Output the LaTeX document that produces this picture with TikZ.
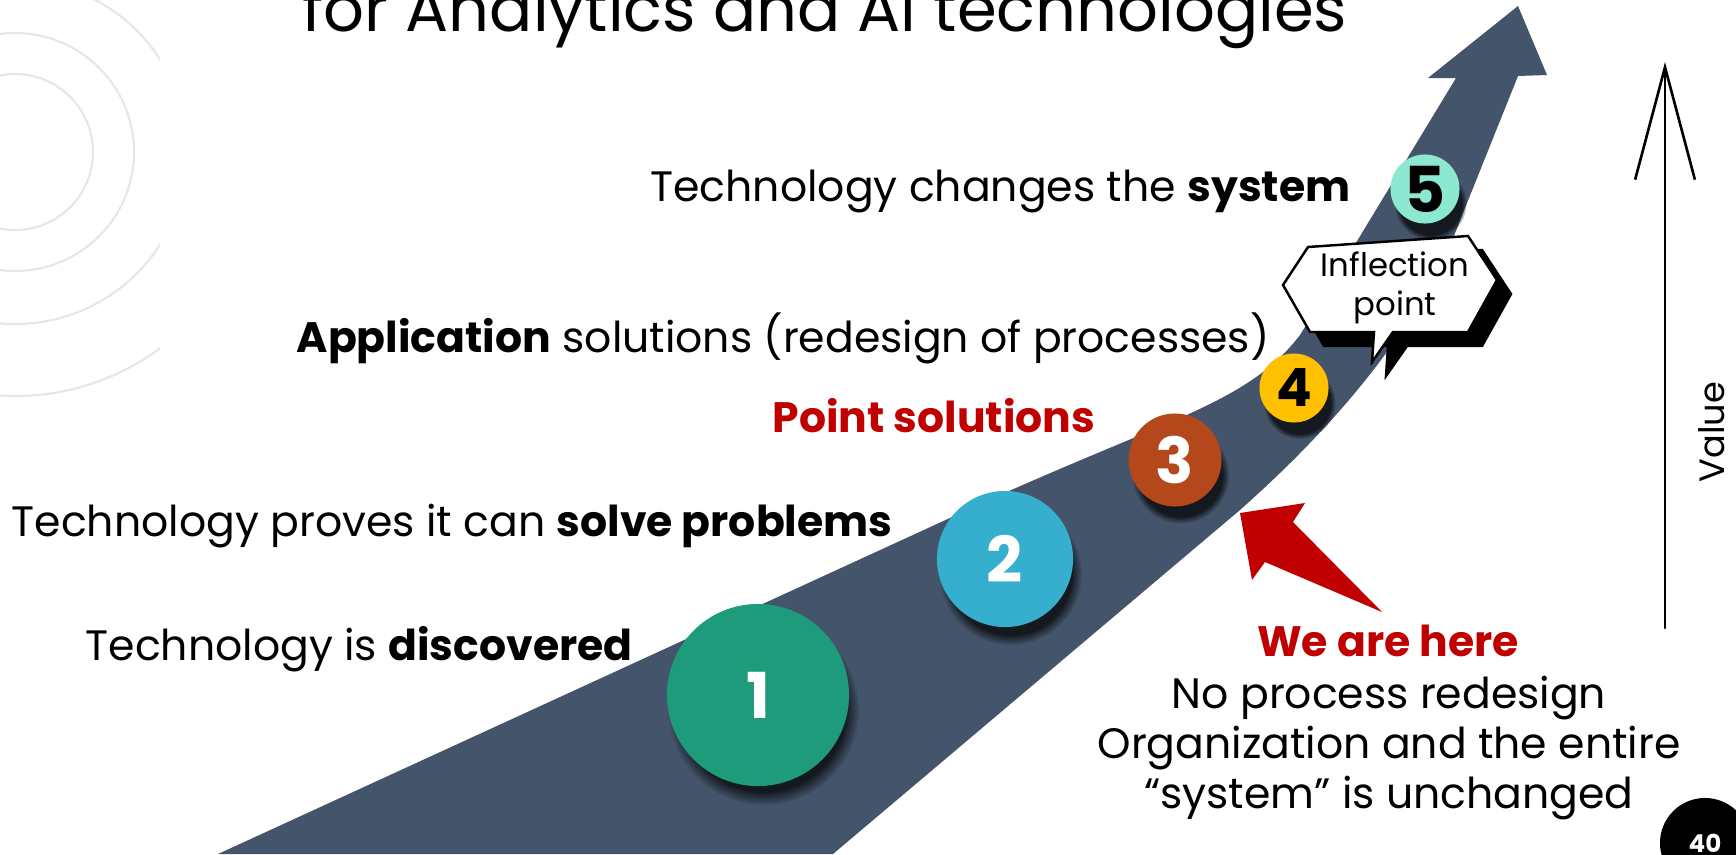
\documentclass[tikz,border=0pt]{standalone}
\usepackage{fontspec}
\setmainfont{Poppins}
\usetikzlibrary{arrows.meta,shadows}

\definecolor{roadblue}{HTML}{44546A}
\definecolor{ringgray}{HTML}{E6E6E6}
\definecolor{wered}{HTML}{C00000}
\definecolor{stageone}{HTML}{1E9B7A}
\definecolor{stagetwo}{HTML}{36AFCF}
\definecolor{stagethree}{HTML}{B5481A}
\definecolor{stagefour}{HTML}{FFC000}
\definecolor{stagefive}{HTML}{8DE8D2}

\begin{document}
\begin{tikzpicture}[x=0.01cm, y=-0.01cm,
    stage/.style={circle, inner sep=0pt, text=white,
                  font=\bfseries\fontsize{18}{18}\selectfont,
                  circular drop shadow={shadow xshift=1.5pt, shadow yshift=-4pt,
                                        opacity=0.7, shadow scale=1.05, fill=black}},
    txt/.style={inner sep=0pt, font=\fontsize{12.1}{14.2}\selectfont},
    hot/.style={inner sep=0pt, text=wered, font=\bfseries\fontsize{12.1}{14.2}\selectfont},
    valueline/.style={line width=0.75pt, line cap=round,
                      -{Straight Barb[length=32pt, width=17pt, line width=0.75pt]}},
]

    \clip (0,0) rectangle (1736,854);

    \begin{scope}
        \clip (0,0) rectangle (160,854);
        \foreach \r in {78,119,172,244}
            \draw[ringgray, line width=0.6pt] (15,152) circle[radius=\r];
    \end{scope}

    \node[inner sep=0pt, anchor=base, font=\fontsize{18.2}{22}\selectfont] (title) at (825,31)
        {for Analytics and AI technologies};

    \fill[roadblue] (218,854) -- (1000,495) .. controls (1180,415) and (1250,400) .. (1300,335)
        -- (1456,78) -- (1428,78) -- (1518,6) -- (1547,75) -- (1518,76) -- (1463,213)
        .. controls (1420,330) and (1330,430) .. (1240,510) -- (833,854) -- cycle;

    \node[stage, fill=stageone, minimum size=1.82cm] (s1) at (758,695) {1};
    \node[stage, fill=stagetwo, minimum size=1.36cm] (s2) at (1005,559) {2};
    \node[stage, fill=stagethree, minimum size=0.93cm] (s3) at (1175,460) {3};
    \node[stage, fill=stagefour, minimum size=0.69cm, text=black,
          font=\bfseries\fontsize{15}{15}\selectfont] (s4) at (1294,388) {4};
    \node[stage, fill=stagefive, minimum size=0.69cm, text=black] (s5) at (1425,189) {5};

    \foreach \off/\fillc in {14/black,0/white}
        \filldraw[fill=\fillc, draw=black, line width=0.7pt, line join=miter, shift={(\off,\off)}]
            (1308,247) -- (1468,236) -- (1497,280) -- (1468,332) -- (1393,332) -- (1372,362)
            -- (1374,332) -- (1310,332) -- (1283,285) -- cycle;
    \node[align=center, inner sep=0pt, font=\fontsize{9.2}{11}\selectfont] (inflection) at (1395,288)
        {Inflection\\point};

    \fill[wered] (1240,513) -- (1305,503) -- (1293,522) -- (1382,612) -- (1265,562) -- (1252,580) -- cycle;

    \node[txt, anchor=base east] (system) at (1351,201) {Technology changes the \textbf{system}};
    \node[txt, anchor=base west] (application) at (296,352)
        {\textbf{Application} solutions (redesign of processes)};
    \node[hot, anchor=base west] (point) at (772,432) {Point solutions};
    \node[txt, anchor=base west] (solve) at (11,536) {Technology proves it can \textbf{solve problems}};
    \node[txt, anchor=base west] (discovered) at (85,660) {Technology is \textbf{discovered}};
    \node[hot, anchor=base] (here) at (1388,656) {We are here};
    \node[txt, align=center, anchor=base] (unchanged) at (1389,808)
        {No process redesign\\Organization and the entire\\“system” is unchanged};

    \coordinate (vbot) at (1665,628);
    \coordinate (vtop) at (1665,62);
    \draw[valueline] (vbot) -- (vtop);
    \node[rotate=90, inner sep=0pt, font=\fontsize{10}{12}\selectfont] (value) at (1712,432) {Value};

    \node[circle, fill=black, minimum size=0.9cm, text=white,
          font=\bfseries\fontsize{7}{7}\selectfont] (page) at (1705,843) {40};

\end{tikzpicture}
\end{document}
